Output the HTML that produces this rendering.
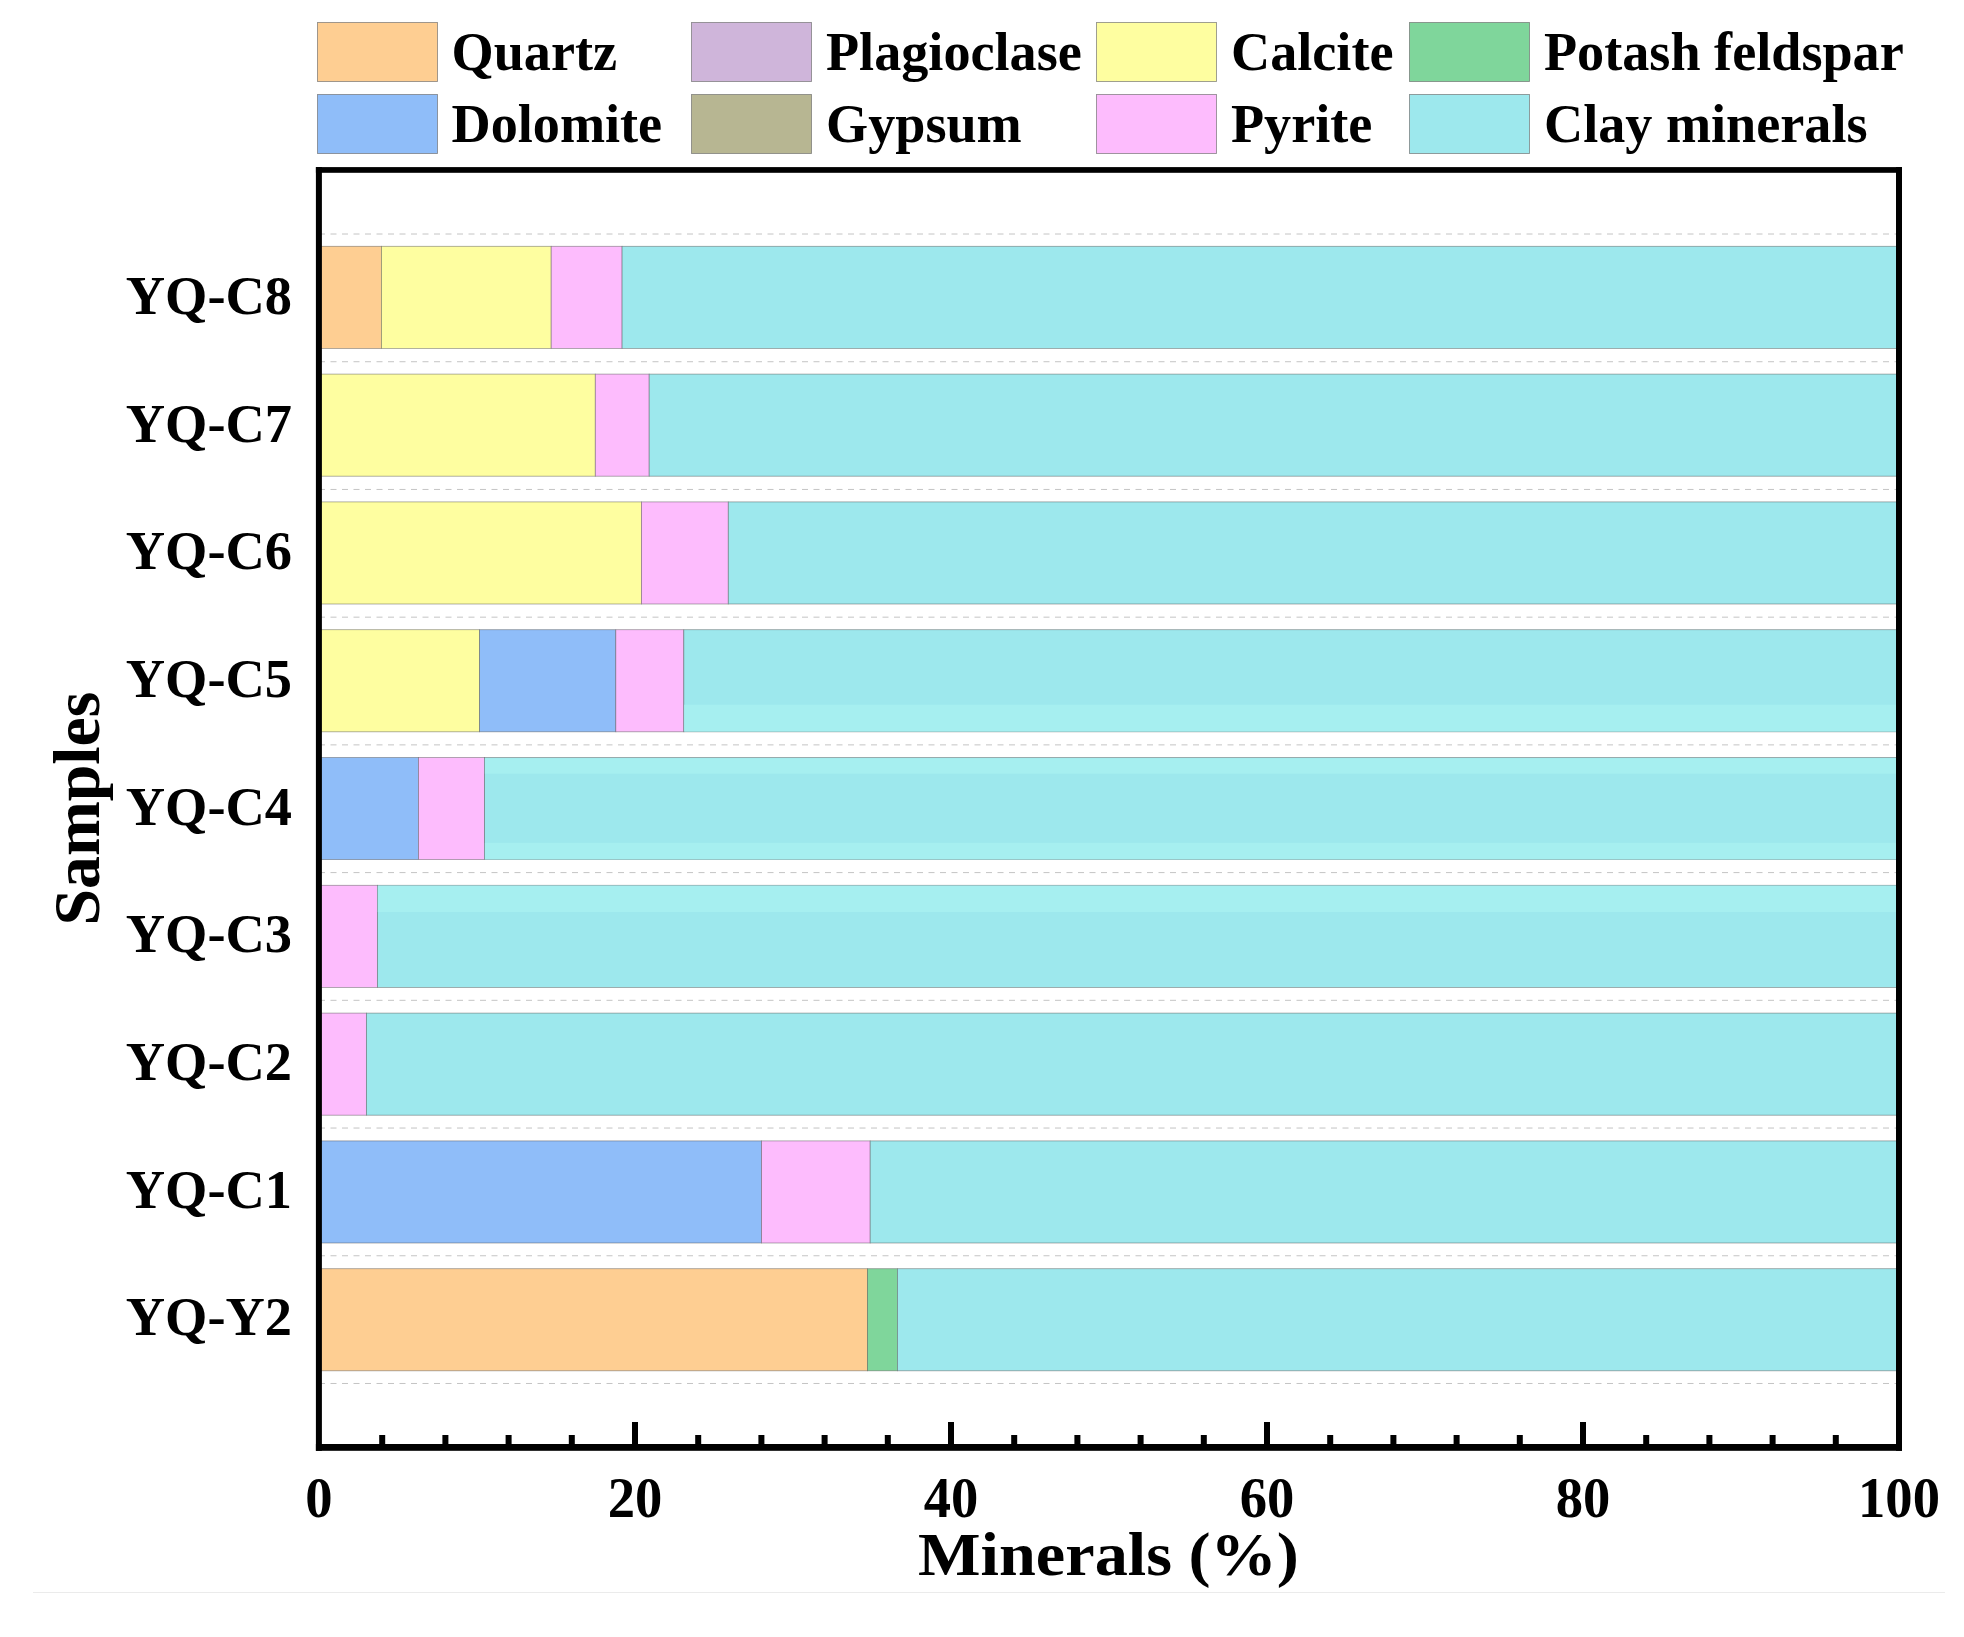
<!DOCTYPE html>
<html lang="en">
<head>
<meta charset="utf-8">
<title>Mineral composition of samples</title>
<style>
html,body{margin:0;padding:0;background:#fff;}
body{width:1964px;height:1637px;overflow:hidden;}
svg{display:block;}
text{font-family:"Liberation Serif","Times New Roman",serif;font-weight:bold;fill:#000;}
</style>
</head>
<body>
<svg width="1964" height="1637" viewBox="0 0 1964 1637">
<rect x="0" y="0" width="1964" height="1637" fill="#ffffff"/>
<g stroke="#c4c4c4" stroke-width="1" stroke-dasharray="6 5.5" fill="none">
<line x1="319" y1="234.00" x2="1899" y2="234.00"/>
<line x1="319" y1="361.72" x2="1899" y2="361.72"/>
<line x1="319" y1="489.44" x2="1899" y2="489.44"/>
<line x1="319" y1="617.16" x2="1899" y2="617.16"/>
<line x1="319" y1="744.88" x2="1899" y2="744.88"/>
<line x1="319" y1="872.60" x2="1899" y2="872.60"/>
<line x1="319" y1="1000.32" x2="1899" y2="1000.32"/>
<line x1="319" y1="1128.04" x2="1899" y2="1128.04"/>
<line x1="319" y1="1255.76" x2="1899" y2="1255.76"/>
<line x1="319" y1="1383.48" x2="1899" y2="1383.48"/>
</g>
<g stroke="#505050" stroke-opacity="0.55" stroke-width="0.8">
<rect x="319.0" y="246.30" width="62.4" height="102.1" fill="#fece92"/>
<rect x="381.4" y="246.30" width="169.8" height="102.1" fill="#fefea0"/>
<rect x="551.2" y="246.30" width="70.9" height="102.1" fill="#fdbcfd"/>
<rect x="622.1" y="246.30" width="1276.9" height="102.1" fill="#9de8ed"/>
<rect x="319.0" y="374.10" width="276.3" height="102.1" fill="#fefea0"/>
<rect x="595.3" y="374.10" width="53.9" height="102.1" fill="#fdbcfd"/>
<rect x="649.2" y="374.10" width="1249.8" height="102.1" fill="#9de8ed"/>
<rect x="319.0" y="501.90" width="322.4" height="102.1" fill="#fefea0"/>
<rect x="641.4" y="501.90" width="86.9" height="102.1" fill="#fdbcfd"/>
<rect x="728.3" y="501.90" width="1170.7" height="102.1" fill="#9de8ed"/>
<rect x="319.0" y="629.70" width="160.6" height="102.1" fill="#fefea0"/>
<rect x="479.6" y="629.70" width="136.2" height="102.1" fill="#8fbdf9"/>
<rect x="615.8" y="629.70" width="68.0" height="102.1" fill="#fdbcfd"/>
<rect x="683.8" y="629.70" width="1215.2" height="102.1" fill="#9de8ed"/>
<rect x="319.0" y="757.50" width="99.4" height="102.1" fill="#8fbdf9"/>
<rect x="418.4" y="757.50" width="66.1" height="102.1" fill="#fdbcfd"/>
<rect x="484.5" y="757.50" width="1414.5" height="102.1" fill="#9de8ed"/>
<rect x="319.0" y="885.30" width="58.4" height="102.1" fill="#fdbcfd"/>
<rect x="377.4" y="885.30" width="1521.6" height="102.1" fill="#9de8ed"/>
<rect x="319.0" y="1013.10" width="47.4" height="102.1" fill="#fdbcfd"/>
<rect x="366.4" y="1013.10" width="1532.6" height="102.1" fill="#9de8ed"/>
<rect x="319.0" y="1140.90" width="442.5" height="102.1" fill="#8fbdf9"/>
<rect x="761.5" y="1140.90" width="108.7" height="102.1" fill="#fdbcfd"/>
<rect x="870.2" y="1140.90" width="1028.8" height="102.1" fill="#9de8ed"/>
<rect x="319.0" y="1268.70" width="548.5" height="102.1" fill="#fece92"/>
<rect x="867.5" y="1268.70" width="29.9" height="102.1" fill="#7fd69b"/>
<rect x="897.4" y="1268.70" width="1001.6" height="102.1" fill="#9de8ed"/>
<g fill="#a6eff0" stroke="none">
<rect x="684.2" y="704.7" width="1214.8" height="26.8"/>
<rect x="484.9" y="758.3" width="1414.1" height="15.4"/>
<rect x="484.9" y="842.9" width="1414.1" height="16.5"/>
<rect x="377.8" y="885.7" width="1521.2" height="26.3"/>
</g>
</g>
<g fill="#000">
<rect x="379.2" y="1435" width="6" height="11"/>
<rect x="442.4" y="1435" width="6" height="11"/>
<rect x="505.6" y="1435" width="6" height="11"/>
<rect x="568.8" y="1435" width="6" height="11"/>
<rect x="632.0" y="1422" width="6" height="24"/>
<rect x="695.2" y="1435" width="6" height="11"/>
<rect x="758.4" y="1435" width="6" height="11"/>
<rect x="821.6" y="1435" width="6" height="11"/>
<rect x="884.8" y="1435" width="6" height="11"/>
<rect x="948.0" y="1422" width="6" height="24"/>
<rect x="1011.2" y="1435" width="6" height="11"/>
<rect x="1074.4" y="1435" width="6" height="11"/>
<rect x="1137.6" y="1435" width="6" height="11"/>
<rect x="1200.8" y="1435" width="6" height="11"/>
<rect x="1264.0" y="1422" width="6" height="24"/>
<rect x="1327.2" y="1435" width="6" height="11"/>
<rect x="1390.4" y="1435" width="6" height="11"/>
<rect x="1453.6" y="1435" width="6" height="11"/>
<rect x="1516.8" y="1435" width="6" height="11"/>
<rect x="1580.0" y="1422" width="6" height="24"/>
<rect x="1643.2" y="1435" width="6" height="11"/>
<rect x="1706.4" y="1435" width="6" height="11"/>
<rect x="1769.6" y="1435" width="6" height="11"/>
<rect x="1832.8" y="1435" width="6" height="11"/>
</g>
<g fill="#000">
<rect x="315.9" y="167.1" width="1586.1" height="5.7"/>
<rect x="315.9" y="1444" width="1586.1" height="6.8"/>
<rect x="315.9" y="167.1" width="6" height="1283.7"/>
<rect x="1896" y="167.1" width="6" height="1283.7"/>
</g>
<g font-size="54.4" text-anchor="end">
<text x="292" y="313.9">YQ-C8</text>
<text x="292" y="441.5">YQ-C7</text>
<text x="292" y="569.2">YQ-C6</text>
<text x="292" y="696.9">YQ-C5</text>
<text x="292" y="824.5">YQ-C4</text>
<text x="292" y="952.1">YQ-C3</text>
<text x="292" y="1079.8">YQ-C2</text>
<text x="292" y="1207.5">YQ-C1</text>
<text x="292" y="1335.1">YQ-Y2</text>
</g>
<g font-size="54.6" text-anchor="middle">
<text transform="translate(319.0 1516.8) scale(1 1.027)">0</text>
<text transform="translate(635.0 1516.8) scale(1 1.027)">20</text>
<text transform="translate(951.0 1516.8) scale(1 1.027)">40</text>
<text transform="translate(1267.0 1516.8) scale(1 1.027)">60</text>
<text transform="translate(1583.0 1516.8) scale(1 1.027)">80</text>
<text transform="translate(1899.0 1516.8) scale(1 1.027)">100</text>
</g>
<text font-size="61.5" text-anchor="middle" transform="translate(1108.5 1574.7) scale(1.0775 1)">Minerals (%)</text>
<text font-size="65" text-anchor="middle" transform="translate(99 808.6) rotate(-90) scale(1.012 1)">Samples</text>
<g font-size="54.2">
<rect x="317.5" y="22.5" width="120" height="59" fill="#fece92" stroke="#686868" stroke-opacity="0.7" stroke-width="0.9"/>
<text x="451.5" y="69.7">Quartz</text>
<rect x="317.5" y="94.5" width="120" height="59" fill="#8fbdf9" stroke="#686868" stroke-opacity="0.7" stroke-width="0.9"/>
<text x="451.5" y="141.7">Dolomite</text>
<rect x="691.5" y="22.5" width="120" height="59" fill="#cfb5da" stroke="#686868" stroke-opacity="0.7" stroke-width="0.9"/>
<text x="826.0" y="69.7">Plagioclase</text>
<rect x="691.5" y="94.5" width="120" height="59" fill="#b7b692" stroke="#686868" stroke-opacity="0.7" stroke-width="0.9"/>
<text x="826.0" y="141.7">Gypsum</text>
<rect x="1096.5" y="22.5" width="120" height="59" fill="#fefea0" stroke="#686868" stroke-opacity="0.7" stroke-width="0.9"/>
<text x="1231.0" y="69.7">Calcite</text>
<rect x="1096.5" y="94.5" width="120" height="59" fill="#fdbcfd" stroke="#686868" stroke-opacity="0.7" stroke-width="0.9"/>
<text x="1231.0" y="141.7">Pyrite</text>
<rect x="1409.5" y="22.5" width="120" height="59" fill="#7fd69b" stroke="#686868" stroke-opacity="0.7" stroke-width="0.9"/>
<text x="1544.0" y="69.7">Potash feldspar</text>
<rect x="1409.5" y="94.5" width="120" height="59" fill="#9de8ed" stroke="#686868" stroke-opacity="0.7" stroke-width="0.9"/>
<text x="1544.0" y="141.7">Clay minerals</text>
</g>
<rect x="33" y="1592" width="1912" height="1" fill="#ebebeb"/>
</svg>
</body>
</html>
